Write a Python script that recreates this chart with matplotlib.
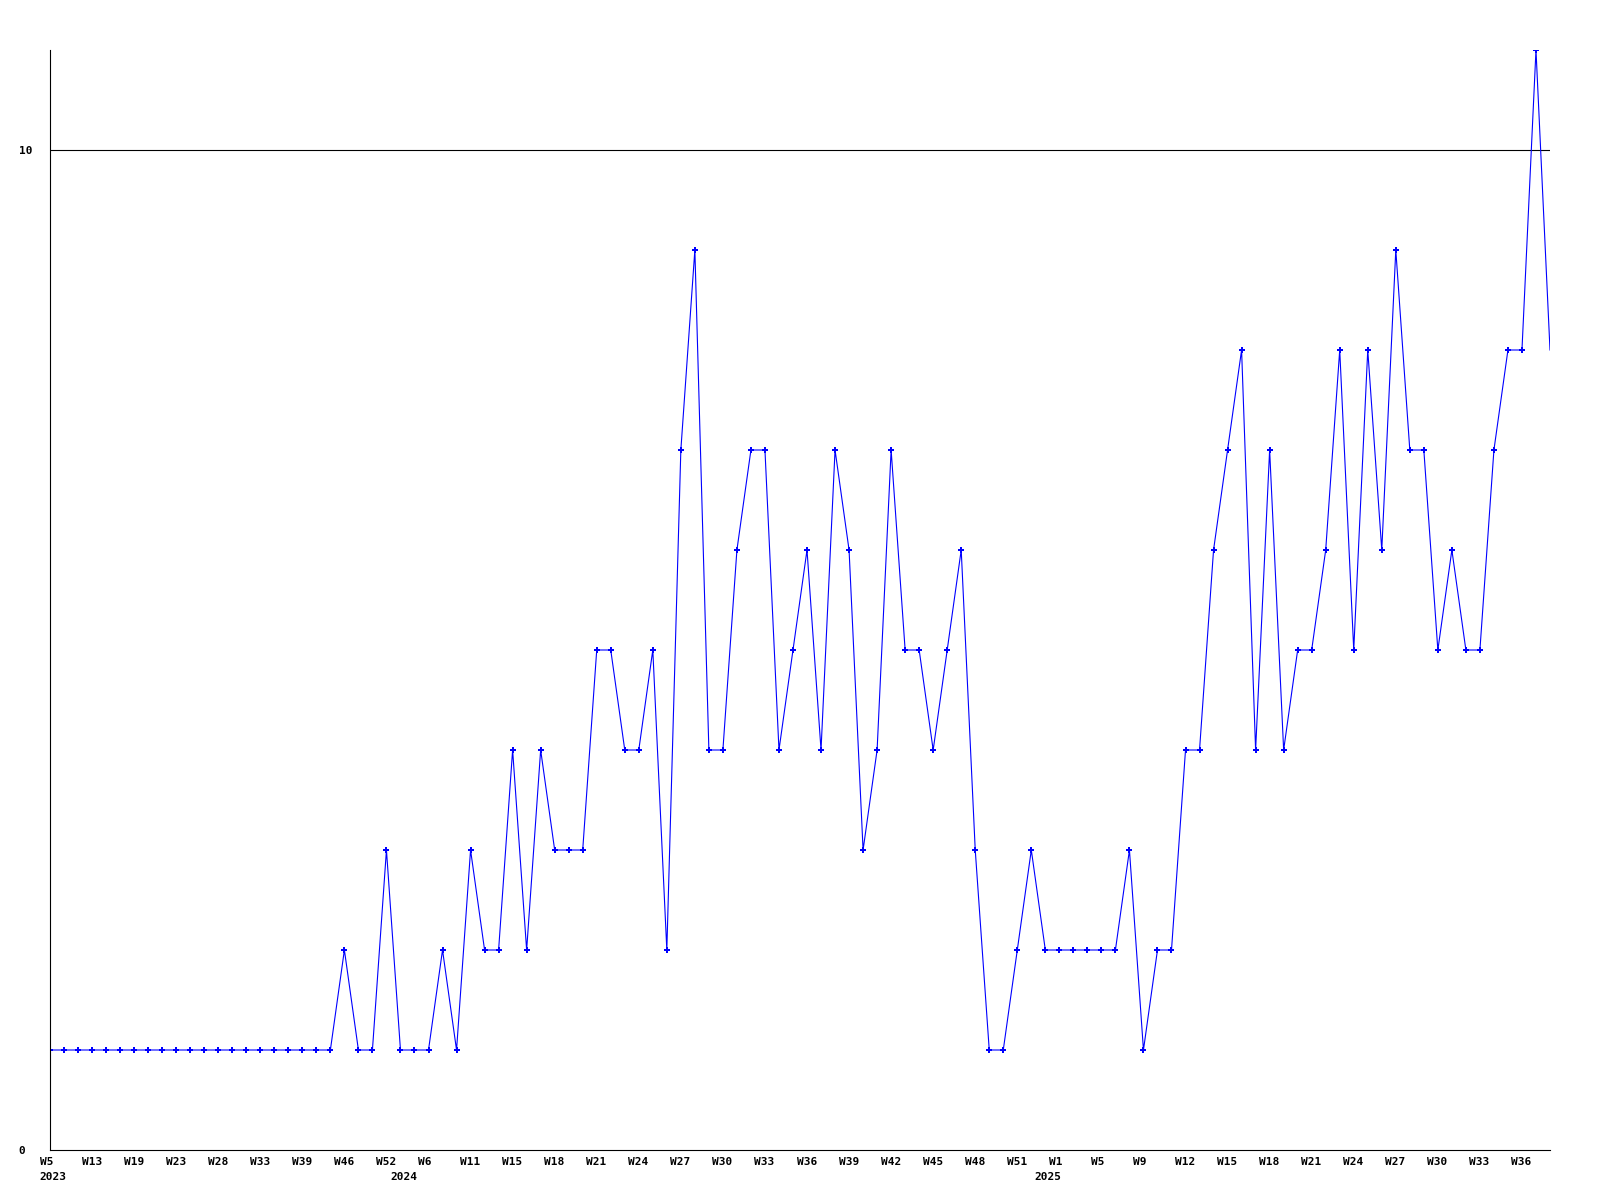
import matplotlib
matplotlib.use("Agg")
import matplotlib.pyplot as plt
import matplotlib.transforms as mtransforms

# ---------- data ----------
values = [1, 1, 1, 1, 1, 1, 1, 1, 1, 1, 1, 1, 1, 1, 1, 1, 1, 1, 1, 1, 1,
          2, 1, 1, 3, 1, 1, 1, 2, 1, 3, 2, 2, 4, 2, 4, 3, 3, 3, 5, 5, 4, 4,
          5, 2, 7, 9, 4, 4, 6, 7, 7, 4, 5, 6, 4, 7, 6, 3, 4, 7, 5, 5, 4, 5,
          6, 3, 1, 1, 2, 3, 2, 2, 2, 2, 2, 2, 3, 1, 2, 2, 4, 4, 6, 7, 8, 4,
          7, 4, 5, 5, 6, 8, 5, 8, 6, 9, 7, 7, 5, 6, 5, 5, 7, 8, 8, 11, 8]

week_labels = ["W5", "W13", "W19", "W23", "W28", "W33", "W39", "W46", "W52",
               "W6", "W11", "W15", "W18", "W21", "W24", "W27", "W30", "W33",
               "W36", "W39", "W42", "W45", "W48", "W51", "W1", "W5", "W9",
               "W12", "W15", "W18", "W21", "W24", "W27", "W30", "W33", "W36"]
week_pos = list(range(0, 3 * len(week_labels), 3))

year_labels = ["2023", "2024", "2025"]
year_pos = [0, 25, 71]

y_ticks = [0, 10]

# ---------- plot ----------
font = {"family": "DejaVu Sans Mono", "weight": "bold", "size": 8}

fig = plt.figure(figsize=(16, 12), dpi=100)
ax = fig.add_axes([50 / 1600, 50 / 1200, 1500 / 1600, 1100 / 1200])

x = list(range(len(values)))
ax.plot(x, values, color="#0000ff", linewidth=0.8, marker="P", markersize=3.8,
        markeredgewidth=0, markevery=slice(0, len(values) - 1))

ax.axhline(10, color="black", linewidth=0.8, zorder=0)

ax.set_xlim(0, len(values) - 1)
ax.set_ylim(0, 11)

for side in ["top", "right"]:
    ax.spines[side].set_visible(False)
for side in ["left", "bottom"]:
    ax.spines[side].set_linewidth(0.8)
    ax.spines[side].set_color("black")

ax.set_xticks(week_pos)
ax.set_xticklabels(week_labels, fontdict=font, ha="left")
ax.set_yticks(y_ticks)
ax.set_yticklabels([str(v) for v in y_ticks], fontdict=font, ha="left")
ax.tick_params(axis="both", length=0)
ax.tick_params(axis="x", pad=5)
ax.tick_params(axis="y", pad=22.5)

# labels start a little left of their point
shift = mtransforms.ScaledTranslation(-10.5 / 100, 0, fig.dpi_scale_trans)
for lab in ax.get_xticklabels():
    lab.set_transform(lab.get_transform() + shift)

trans = mtransforms.blended_transform_factory(ax.transData, ax.transAxes)
for yl, yp in zip(year_labels, year_pos):
    ax.text(yp, 0, yl, transform=trans + mtransforms.ScaledTranslation(-10.5 / 100, -22 / 100, fig.dpi_scale_trans),
            ha="left", va="top", **font)

fig.savefig("out.png", dpi=100)
